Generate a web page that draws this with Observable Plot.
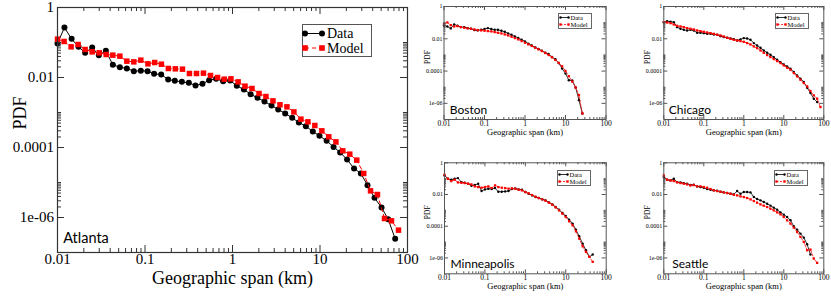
<!DOCTYPE html>
<html><head><meta charset="utf-8">
<script src="https://cdn.jsdelivr.net/npm/d3@7"></script>
<script src="https://cdn.jsdelivr.net/npm/@observablehq/plot@0.6"></script>
<style>
html,body{margin:0;padding:0;background:#fff;}
#chart{position:relative;width:831px;height:303px;overflow:hidden;background:#fff;}
#chart svg{position:absolute;}
</style></head><body><div id="chart"></div>
<script>
// ---------- data ----------
const xTickValues = [0.01, 0.1, 1, 10, 100];
const xTickLabels = ["0.01", "0.1", "1", "10", "100"];
const yTickValues = [1, 0.01, 0.0001, 0.000001];
const yTickLabels = ["1", "0.01", "0.0001", "1e-06"];
const xTitle = "Geographic span (km)";
const yTitle = "PDF";
const seriesNames = ["Data", "Model"];
const cityNames = ["Atlanta", "Boston", "Chicago", "Minneapolis", "Seattle"];

const atlantaDataX = [0.01, 0.012, 0.0145, 0.0174, 0.0207, 0.0249, 0.0297, 0.0357, 0.0429, 0.0516, 0.062, 0.0745, 0.0896, 0.107, 0.127, 0.153, 0.184, 0.219, 0.264, 0.317, 0.378, 0.454, 0.541, 0.65, 0.782, 0.94, 1.12, 1.35, 1.61, 1.93, 2.32, 2.79, 3.33, 4.0, 4.81, 5.73, 6.89, 8.28, 9.86, 11.9, 14.3, 17.0, 20.4, 24.5, 29.3, 34.9, 42.0, 50.5, 60.1, 72.3];
const atlantaDataY = [0.0936, 0.268, 0.127, 0.0752, 0.0507, 0.072, 0.0435, 0.0578, 0.023, 0.0197, 0.0181, 0.0152, 0.0155, 0.0152, 0.0127, 0.0122, 0.00877, 0.00803, 0.00752, 0.00704, 0.0059, 0.00659, 0.0084, 0.00916, 0.00786, 0.0082, 0.00578, 0.00454, 0.00334, 0.00262, 0.00206, 0.00158, 0.00122, 0.000936, 0.000705, 0.000518, 0.000407, 0.000286, 0.000216, 0.000155, 0.000104, 0.000072, 0.0000454, 0.0000251, 0.0000181, 0.0000084, 0.00000365, 0.00000193, 0.000000896, 0.000000246];
const atlantaModelX = [0.01, 0.0119, 0.0143, 0.0172, 0.0207, 0.0249, 0.03, 0.036, 0.0429, 0.0516, 0.062, 0.0745, 0.0896, 0.108, 0.129, 0.154, 0.185, 0.222, 0.268, 0.322, 0.388, 0.466, 0.561, 0.675, 0.805, 0.96, 1.16, 1.39, 1.67, 2.01, 2.41, 2.9, 3.49, 4.19, 5.03, 6.05, 7.27, 8.73, 10.5, 12.6, 15.2, 18.2, 21.9, 26.3, 31.6, 37.8, 45.4, 54.6, 65.6, 78.9];
const atlantaModelY = [0.1245, 0.107, 0.0752, 0.0877, 0.0631, 0.0541, 0.0507, 0.0454, 0.0435, 0.0407, 0.0293, 0.028, 0.0313, 0.0246, 0.0268, 0.024, 0.0181, 0.0177, 0.0173, 0.013, 0.013, 0.0133, 0.0114, 0.01, 0.00896, 0.00916, 0.0075, 0.00565, 0.00485, 0.00349, 0.00286, 0.00215, 0.00166, 0.00145, 0.00104, 0.000645, 0.000541, 0.000425, 0.000299, 0.000202, 0.000145, 0.0000803, 0.0000645, 0.0000435, 0.0000181, 0.00000578, 0.00000454, 0.000000936, 0.000000804, 0.000000435];

// shared log bins of the four small panels
const spanBins = [0.01, 0.0121, 0.0147, 0.0178, 0.0215, 0.0261, 0.0316, 0.0383, 0.0464, 0.0562, 0.0681, 0.0825, 0.1, 0.121, 0.147, 0.178, 0.215, 0.261, 0.316, 0.383, 0.464, 0.562, 0.681, 0.825, 1, 1.21, 1.47, 1.78, 2.15, 2.61, 3.16, 3.83, 4.64, 5.62, 6.81, 8.25, 10, 12.1, 14.7, 17.8, 21.5, 26.1, 31.6, 38.3, 46.4, 56.2, 68.1, 82.5];

const bostonData = [0.067, 0.058, 0.044, 0.077, 0.064, 0.053, 0.053, 0.046, 0.042, 0.0346, 0.033, 0.036, 0.040, 0.046, 0.040, 0.036, 0.036, 0.0315, 0.0273, 0.0216, 0.0178, 0.0141, 0.0111, 0.00875, 0.0069, 0.00496, 0.00392, 0.00294, 0.00232, 0.00183, 0.00138, 0.00114, 0.000745, 0.000535, 0.000318, 0.000142, 0.0000698, 0.000027, 0.0000258, 0.00000953, 0.00000158, 0.000000237];
const bostonModel = [0.085, 0.103, 0.070, 0.058, 0.061, 0.053, 0.048, 0.044, 0.042, 0.038, 0.0346, 0.033, 0.0315, 0.030, 0.0286, 0.026, 0.0237, 0.0216, 0.0187, 0.0162, 0.0134, 0.0111, 0.0092, 0.00724, 0.00572, 0.00451, 0.00356, 0.00281, 0.00222, 0.00175, 0.00132, 0.00099, 0.000711, 0.000487, 0.000318, 0.000198, 0.000102, 0.0000478, 0.0000224, 0.00000953, 0.0000032, 0.000000237];
const chicagoData = [0.107, 0.124, 0.113, 0.107, 0.0527, 0.0416, 0.036, 0.0328, 0.036, 0.0328, 0.0235, 0.0235, 0.0224, 0.0204, 0.0204, 0.0185, 0.0177, 0.0146, 0.0127, 0.0115, 0.0105, 0.00953, 0.00789, 0.0091, 0.011, 0.0105, 0.00867, 0.0054, 0.00387, 0.00277, 0.0019, 0.00136, 0.00102, 0.000734, 0.000502, 0.00036, 0.000258, 0.000194, 0.000139, 0.0000867, 0.000054, 0.0000336, 0.0000209, 0.0000093, 0.00000436, 0.00000194, 0.00000121];
const chicagoModel = [0.107, 0.102, 0.093, 0.077, 0.0637, 0.058, 0.0527, 0.0457, 0.0416, 0.0378, 0.0328, 0.0298, 0.0271, 0.0246, 0.0224, 0.0204, 0.0177, 0.0161, 0.0139, 0.0115, 0.01, 0.00867, 0.00789, 0.00718, 0.00652, 0.0054, 0.00446, 0.00336, 0.00265, 0.0019, 0.00136, 0.00098, 0.000734, 0.000552, 0.000416, 0.000313, 0.000224, 0.000161, 0.000121, 0.0000752, 0.0000468, 0.0000291, 0.0000181, 0.0000113, 0.0000058, 0.00000313, 0.00000194, 0.000000593];
const minneapolisData = [0.16, 0.0986, 0.0853, 0.0986, 0.1086, 0.0608, 0.0552, 0.0478, 0.0357, 0.0394, 0.0478, 0.0165, 0.021, 0.0232, 0.0221, 0.0255, 0.015, 0.015, 0.0157, 0.0165, 0.0221, 0.0243, 0.021, 0.02, 0.0143, 0.0112, 0.0088, 0.00693, 0.006, 0.00494, 0.00428, 0.0032, 0.00239, 0.00163, 0.00111, 0.000683, 0.000442, 0.00026, 0.000146, 0.0000611, 0.0000233, 0.00000805, 0.00000306, 0.00000117, 0.00000164];
const minneapolisModel = [0.176, 0.0986, 0.0703, 0.0853, 0.058, 0.0552, 0.0526, 0.0478, 0.0434, 0.0325, 0.0295, 0.0268, 0.0295, 0.0325, 0.0255, 0.0375, 0.0295, 0.0268, 0.0255, 0.0232, 0.0243, 0.0232, 0.02, 0.0182, 0.0143, 0.0118, 0.00925, 0.00727, 0.006, 0.00494, 0.00407, 0.00305, 0.00228, 0.00155, 0.001, 0.00062, 0.000383, 0.000204, 0.000115, 0.000048, 0.0000166, 0.00000547, 0.00000241, 0.00000117, 0.000000566];
const seattleData = [0.1255, 0.0853, 0.0774, 0.0986, 0.0608, 0.058, 0.0526, 0.0478, 0.0394, 0.0413, 0.0325, 0.0295, 0.0268, 0.0221, 0.02, 0.0182, 0.0173, 0.015, 0.0136, 0.0124, 0.0112, 0.0102, 0.0165, 0.0112, 0.0143, 0.0143, 0.0136, 0.00693, 0.00519, 0.00428, 0.00336, 0.00264, 0.00198, 0.00148, 0.00111, 0.000752, 0.000537, 0.000383, 0.000236, 0.0000991, 0.0000611, 0.0000343, 0.0000192, 0.00000731, 0.00000164];
const seattleModel = [0.16, 0.0853, 0.0774, 0.0703, 0.058, 0.0526, 0.0478, 0.0434, 0.0375, 0.0394, 0.0325, 0.0325, 0.0295, 0.0268, 0.0221, 0.0182, 0.0165, 0.015, 0.0136, 0.0124, 0.0112, 0.0097, 0.0088, 0.00763, 0.00693, 0.006, 0.00494, 0.00388, 0.00305, 0.00239, 0.00198, 0.00163, 0.00128, 0.001, 0.000752, 0.000563, 0.000383, 0.000236, 0.000146, 0.0000816, 0.0000436, 0.0000211, 0.0000102, 0.00000306, 0.00000337, 0.000000916, 0.00000049];

// ---------- layout & style ----------
const xDomain = [0.01, 100];
const yDomain = [1e-7, 1];
const serif = "'Liberation Serif', 'DejaVu Serif', serif";
const sans = "Lato, 'Open Sans', sans-serif";
const RED = "#ff0000";
const xLab = new Map(xTickValues.map((v, i) => [v, xTickLabels[i]]));
const yLab = new Map(yTickValues.map((v, i) => [v, yTickLabels[i]]));

const bigStyle = {lw: 1, dash: "4,3", r: 3, sq: 3.1, frame: "#333", fw: 1.2, major: 7, minor: 4,
  xfs: 15, yfs: 15, xpad: 1, ypad: 3.5, tfs: 18, titleDy: 25.5, pfs: 18, pdfDx: -37, pdfDy: -17, nfs: 14.5, nameDy: -14};
const smallStyle = {lw: 0.8, dash: "2,1.5", r: 1.2, sq: 1.3, frame: "#555", fw: 1, major: 4, minor: 2,
  xfs: 7.5, yfs: 6, xpad: 1, ypad: 1.5, tfs: 8.5, titleDy: 12.8, pfs: 7.5, pdfDx: -16.7, pdfDy: -6, nfs: 12, nameDy: -9.8};

const panels = [
  {name: cityNames[0], big: true, left: 0, top: 0, width: 420, height: 303, ml: 57, mr: 13, mt: 7, mb: 51, nameDx: 5.7,
   dataX: atlantaDataX, dataY: atlantaDataY, modelX: atlantaModelX, modelY: atlantaModelY},
  {name: cityNames[1], left: 420, top: 0, width: 210, height: 150, ml: 23.5, mr: 24.5, mt: 6, mb: 31, nameDx: 5.8,
   dataX: spanBins, dataY: bostonData, modelX: spanBins, modelY: bostonModel},
  {name: cityNames[2], left: 620, top: 0, width: 211, height: 150, ml: 43.3, mr: 7.7, mt: 6, mb: 31, nameDx: 5,
   dataX: spanBins, dataY: chicagoData, modelX: spanBins, modelY: chicagoModel},
  {name: cityNames[3], left: 420, top: 150, width: 210, height: 153, ml: 24, mr: 24.3, mt: 12.3, mb: 29.7, nameDx: 6,
   dataX: spanBins, dataY: minneapolisData, modelX: spanBins, modelY: minneapolisModel},
  {name: cityNames[4], left: 620, top: 150, width: 211, height: 153, ml: 43.3, mr: 7.7, mt: 12.3, mb: 29.7, nameDx: 8.4,
   dataX: spanBins, dataY: seattleData, modelX: spanBins, modelY: seattleModel}
];

const legends = [
  {x: 302, y: 24, w: 69, h: 32, rows: [9, 23.5], lx1: 3, lx2: 20, tx: 25, fs: 14, r: 3, side: 5.6, lw: 1, dash: "4,3", stroke: "#555"},
  {x: 557.7, y: 13.3, w: 33, h: 15, rows: [4, 11], lx1: 2.5, lx2: 10.5, tx: 12.5, fs: 6.5, r: 1.2, side: 2.4, lw: 0.8, dash: "2,1.5", stroke: "#666"},
  {x: 775, y: 13.3, w: 33, h: 15, rows: [4, 11], lx1: 2.5, lx2: 10.5, tx: 12.5, fs: 6.5, r: 1.2, side: 2.4, lw: 0.8, dash: "2,1.5", stroke: "#666"},
  {x: 556.7, y: 170, w: 33, h: 15, rows: [4, 11], lx1: 2.5, lx2: 10.5, tx: 12.5, fs: 6.5, r: 1.2, side: 2.4, lw: 0.8, dash: "2,1.5", stroke: "#666"},
  {x: 774.3, y: 170, w: 33, h: 15, rows: [4, 11], lx1: 2.5, lx2: 10.5, tx: 12.5, fs: 6.5, r: 1.2, side: 2.4, lw: 0.8, dash: "2,1.5", stroke: "#666"}
];

const chart = document.getElementById("chart");

// minor ticks: x at 2..9 per decade; y (major every 2 decades) at 2..10 x each major below 1
const xMinor = d3.scaleLog().domain(xDomain).ticks()
  .filter(v => Math.abs(Math.log10(v) - Math.round(Math.log10(v))) > 1e-6);
const yMinor = [];
yTickValues.forEach(M => { if (M < 1) for (let k = 2; k <= 10; k++) yMinor.push(k * M); });

function drawPanel(p) {
  const S = p.big ? bigStyle : smallStyle;
  const fw = p.width - p.ml - p.mr, fh = p.height - p.mt - p.mb;
  const data = p.dataY.map((y, i) => ({x: p.dataX[i], y, s: seriesNames[0]}));
  const model = p.modelY.map((y, i) => ({x: p.modelX[i], y, s: seriesNames[1]}));
  const tk = {stroke: S.frame, strokeWidth: 1};
  const svg = Plot.plot({
    width: p.width, height: p.height,
    marginLeft: p.ml, marginRight: p.mr, marginTop: p.mt, marginBottom: p.mb,
    x: {type: "log", domain: xDomain},
    y: {type: "log", domain: yDomain},
    style: {fontFamily: serif, background: "transparent", overflow: "visible"},
    marks: [
      Plot.line(data, {x: "x", y: "y", stroke: "#000", strokeWidth: S.lw}),
      Plot.dot(data, {x: "x", y: "y", r: S.r, fill: "#000"}),
      Plot.line(model, {x: "x", y: "y", stroke: RED, strokeWidth: S.lw, strokeDasharray: S.dash}),
      Plot.dot(model, {x: "x", y: "y", symbol: "square", r: S.sq, fill: RED}),
      // inward ticks on all four sides
      Plot.tickX(xTickValues, {...tk, insetTop: fh - S.major}),
      Plot.tickX(xTickValues, {...tk, insetBottom: fh - S.major}),
      Plot.tickX(xMinor, {...tk, insetTop: fh - S.minor}),
      Plot.tickX(xMinor, {...tk, insetBottom: fh - S.minor}),
      Plot.tickY(yTickValues, {...tk, insetRight: fw - S.major}),
      Plot.tickY(yTickValues, {...tk, insetLeft: fw - S.major}),
      Plot.tickY(yMinor, {...tk, insetRight: fw - S.minor}),
      Plot.tickY(yMinor, {...tk, insetLeft: fw - S.minor}),
      Plot.frame({stroke: S.frame, strokeWidth: S.fw}),
      Plot.axisX(xTickValues, {tickSize: 0, tickPadding: S.xpad, tickFormat: d => xLab.get(d),
        fontSize: S.xfs, fontFamily: serif, fill: "#000", label: null}),
      Plot.axisY(yTickValues, {tickSize: 0, tickPadding: S.ypad, tickFormat: d => yLab.get(d),
        fontSize: S.yfs, fontFamily: serif, fill: "#000", label: null}),
      Plot.text([xTitle], {frameAnchor: "bottom", textAnchor: "middle", lineAnchor: "middle",
        dy: S.titleDy, fontSize: S.tfs, fontFamily: serif, fill: "#000"}),
      Plot.text([yTitle], {frameAnchor: "left", textAnchor: "middle", lineAnchor: "middle", rotate: -90,
        dx: S.pdfDx, dy: S.pdfDy, fontSize: S.pfs, fontFamily: serif, fill: "#000"}),
      Plot.text([p.name], {frameAnchor: "bottom-left", textAnchor: "start", lineAnchor: "middle",
        dx: p.nameDx, dy: S.nameDy, fontSize: S.nfs, fontFamily: sans, fill: "#000"})
    ]
  });
  svg.style.position = "absolute";
  svg.style.left = p.left + "px";
  svg.style.top = p.top + "px";
  chart.appendChild(svg);
}

function drawLegend(L) {
  const svg = d3.select(chart).append("svg")
    .style("left", L.x + "px").style("top", L.y + "px")
    .attr("width", L.w + 2).attr("height", L.h + 2)
    .style("font-family", serif);
  svg.append("rect").attr("x", 0.5).attr("y", 0.5).attr("width", L.w).attr("height", L.h)
    .attr("fill", "#fff").attr("stroke", L.stroke).attr("stroke-width", 1);
  seriesNames.forEach((name, i) => {
    const y = L.rows[i] + 0.5;
    const col = i === 0 ? "#000" : RED;
    svg.append("line").attr("x1", L.lx1).attr("x2", L.lx2).attr("y1", y).attr("y2", y)
      .attr("stroke", col).attr("stroke-width", L.lw).attr("stroke-dasharray", i === 0 ? null : L.dash);
    [L.lx1, L.lx2].forEach(cx => {
      if (i === 0) svg.append("circle").attr("cx", cx).attr("cy", y).attr("r", L.r).attr("fill", col);
      else svg.append("rect").attr("x", cx - L.side / 2).attr("y", y - L.side / 2)
        .attr("width", L.side).attr("height", L.side).attr("fill", col);
    });
    svg.append("text").attr("x", L.tx).attr("y", y).attr("dy", "0.34em")
      .attr("font-size", L.fs).attr("fill", "#000").text(name);
  });
}

panels.forEach(drawPanel);
legends.forEach(drawLegend);
</script></body></html>
